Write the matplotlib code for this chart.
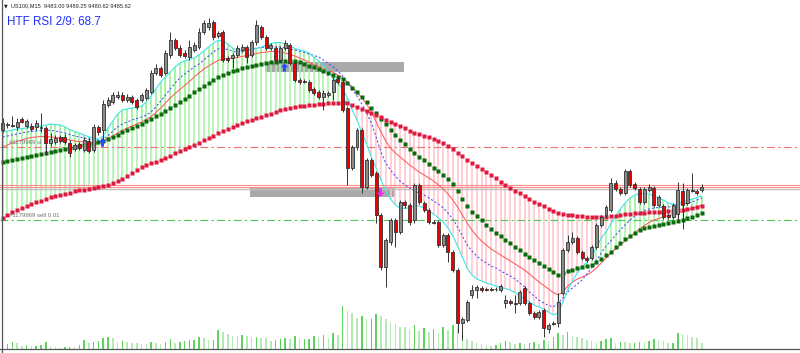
import matplotlib
matplotlib.use("Agg")
import matplotlib.pyplot as plt
from matplotlib.patches import Rectangle
import numpy as np

# ---------------- data (US100, M15) ----------------
opens = [
9543,9548,9548,9546,9554,9547,9547,9546,9545.5,9545,
9530,9531,9536,9536,9530,9524,9529,9523,9532,9523,
9546,9543,9568,9571,9576,9578,9573,9576,9573,9573,
9575,9581,9600,9605,9600,9618,9633,9625,9620,9616,
9623,9626,9641,9646,9651,9637,9641,9615,9615,9618,
9623,9626,9618,9631,9646,9636,9625,9625,9613,9625,
9628,9610,9593,9592,9591,9584,9581,9576,9578,9581,
9594,9591,9565,9505,9526,9543,9486,9513,9500,9458,
9406,9431,9453,9441,9471,9468,9453,9488,9470,9463,
9451,9451,9428,9438,9421,9403,9350,9353,9378,9383,
9385,9384,9384,9384,9383,9370,9372,9370,9370,9385,
9370,9360,9356,9363,9344,9350,9350,9380,9423,9431,
9435,9421,9415,9415,9426,9448,9458,9463,9490,9484,
9480,9502,9489,9484,9471,9483,9485,9468,9467,9458,
9456,9459,9482,9470,9483,9482,9483]
closes = [
9550,9549,9547.5,9551,9551,9552,9544,9550,9546.5,9530,
9534,9535,9532,9531,9520,9528,9525,9533,9522,9546,
9541,9569,9573,9578,9578,9573,9576,9571,9566,9578,
9583,9600,9605,9598,9620,9633,9625,9618,9617,9626,
9628,9641,9650,9650,9636,9640,9613,9613,9618,9625,
9626,9616,9631,9648,9636,9625,9628,9613,9625,9630,
9610,9593,9591,9591.5,9583,9580,9576,9580,9580,9593,
9591,9563,9505,9526,9543,9486,9513,9498,9458,9406,
9433,9453,9441,9471,9468,9451,9488,9471,9463,9451,
9450.5,9428,9438,9421,9403,9350,9354,9371,9383,9386,
9383,9383,9383.5,9384,9387,9373,9370,9369.5,9381,9370,
9360,9356,9361,9345,9348,9349.5,9371,9423,9431,9435,
9421,9415,9413,9426,9448,9456,9466,9490,9484,9480,
9502,9488,9485,9471,9484,9486,9468,9476,9456,9456,
9468,9483,9468,9483,9482.5,9480,9485.62]
highs = [
9555,9551,9557,9555,9556,9554,9550,9553,9560,9547,
9540,9538,9538,9539,9533,9530,9531,9536,9535,9549,
9548,9573,9576,9581,9582,9581,9579,9578,9575,9580,
9585,9603,9609,9607,9623,9641,9635,9628,9623,9633,
9631,9645,9653,9655,9653,9642,9643,9617,9620,9628,
9629,9628,9633,9653,9648,9638,9630,9627,9627,9633,
9630,9612,9595,9594,9593,9586,9583,9583,9582,9596,
9596,9593,9567,9528,9545,9545,9515,9515,9502,9460,
9435,9455,9455,9473,9473,9470,9490,9490,9472,9465,
9453,9453,9440,9440,9423,9405,9356,9373,9388,9388,
9387,9386,9386,9386,9389,9378,9374,9378,9383,9387,
9372,9362,9363,9365,9350,9352,9380,9425,9438,9441,
9437,9423,9417,9428,9450,9458,9468,9495,9493,9486,
9504,9504,9491,9486,9486,9489,9487,9478,9469,9460,
9470,9491,9490,9485,9500,9484,9489.25]
lows = [
9541,9545,9546,9543,9550,9545,9542,9543,9541,9518,
9527,9529,9530,9529,9516,9522,9523,9521,9520,9521,
9538,9531,9566,9569,9574,9571,9571,9569,9564,9571,
9573,9579,9598,9596,9598,9615,9623,9616,9615,9613,
9621,9624,9639,9643,9633,9635,9611,9611,9605,9616,
9621,9610,9616,9628,9634,9623,9623,9611,9611,9623,
9608,9591,9589,9590,9581,9578,9574,9563,9576,9573,
9589,9561,9488,9503,9523,9480,9484,9496,9450,9403,
9386,9428,9426,9439,9465,9448,9450,9469,9461,9449,
9449,9426,9426,9411,9401,9340,9333,9351,9375,9375,
9381,9382,9382,9382,9381,9365,9368,9360,9368,9368,
9358,9354,9354,9336,9340,9348,9346,9378,9421,9429,
9419,9413,9411,9413,9424,9446,9456,9461,9482,9478,
9478,9486,9483,9469,9469,9481,9466,9466,9454,9454,
9454,9453,9444,9468,9481,9478,9480.62]
volumes = [
200,200,290,250,120,160,120,130,150,290,
120,70,30,70,90,70,160,350,250,290,
320,430,470,440,290,320,290,250,230,200,
190,280,230,210,290,390,230,290,320,350,
350,470,430,360,360,750,670,600,530,520,
560,520,480,480,450,430,320,360,400,430,
400,510,390,400,400,530,480,560,450,650,
560,1720,1520,1450,1230,1320,1190,1190,1390,1310,
1190,1030,1000,890,880,800,960,720,840,680,
800,640,880,760,960,920,560,400,320,240,
200,160,120,160,240,320,280,200,240,200,
240,280,200,360,320,480,640,560,680,520,
480,430,360,330,250,330,390,430,250,280,
270,250,250,290,270,310,390,360,330,250,
250,650,600,560,490,430,250]
ma_fast = [  # cyan
9541,9542,9543,9544,9544.5,9545,9546,9546.5,9547,9548,
9549,9548.5,9548,9546,9543.5,9541.5,9540,9538,9536,9534.5,
9534,9537,9545,9552,9559,9563,9564,9565,9565.5,9567,
9571,9577,9584,9591,9596,9601,9606,9610,9612,9614,
9615,9618,9622,9626,9630,9632.5,9632,9629,9625,9622.5,
9622,9622.5,9623.5,9624.5,9626,9628,9629.5,9630.5,9630.5,9629,
9627,9624.5,9623,9622,9620,9616,9612,9607,9602,9596,
9590,9584,9575,9563,9553,9541,9529,9516,9505,9493,
9482,9474,9468,9465,9464.5,9465.5,9467,9467,9465,9462,
9459,9455,9451,9445,9437,9427,9416,9405,9398,9394,
9392,9390,9388.5,9387,9385.5,9384.5,9383,9380.5,9377,9374,
9371,9368,9366,9364,9361,9358,9360,9371,9383,9392,
9400,9406,9411,9417,9425,9435,9441,9449,9457,9464,
9470,9475,9478,9479.5,9479.5,9479,9477,9475.5,9473,9470,
9468.5,9469,9471,9472.5,9474,9475.5,9477]
ma_mid = [  # blue dashed
9536,9537,9538,9539,9540,9541,9541.5,9542,9542.5,9543,
9542.5,9542,9541,9540,9538.5,9537,9536,9535,9534,9533,
9533,9534,9537,9542,9546,9549,9551,9553,9554.5,9556,
9558,9561,9566,9572,9578,9584,9590,9595,9599,9602.5,
9606,9609,9613,9617,9621,9624,9624.5,9623.5,9622,9620.5,
9621,9622.5,9624,9625,9625.5,9626,9626,9626,9626,9625,
9624,9623,9622,9620.5,9619,9617.5,9616,9613,9609.5,9606,
9602,9597,9591,9584,9577,9569,9560,9550,9536,9521,
9510,9503,9497,9492,9488,9485,9482,9480,9478,9475,
9472,9469,9465,9460,9454,9446,9437,9428,9422,9417,
9413,9410,9407,9405,9402,9399.5,9397,9394,9390,9386,
9381,9377,9373,9370,9367.5,9366,9370,9375,9381,9385,
9389,9393,9399,9405,9412,9420,9427,9432,9438,9443,
9448,9453,9457,9460,9462.5,9464,9465,9465.5,9466,9466,
9466.5,9468,9469,9470,9471,9473,9475]
ma_slow = [  # salmon
9526,9528,9530,9531.5,9533,9534.5,9535.5,9536,9536.5,9536.5,
9536,9535.5,9535,9534,9533,9532,9531.5,9531,9530.5,9530,
9530,9532,9534.5,9537,9540,9542.5,9545,9547,9549,9551,
9553.5,9556.5,9560.5,9565,9570,9575,9579.5,9583.5,9587.5,9591.5,
9596,9600,9604,9607,9610,9612.5,9614,9614.5,9615,9615.5,
9616.5,9617.5,9618.5,9619.5,9620.5,9621,9621.5,9621.5,9621,9620,
9618.5,9617,9615,9613,9610.5,9608.5,9606.5,9604.5,9602.5,9600.5,
9598,9595,9591,9586,9581,9575,9569,9561,9551,9541,
9532,9525,9520,9516,9512,9508,9504.5,9501,9498,9495,
9492,9488,9484,9479,9473,9466,9458,9450,9443,9437,
9432,9428,9424,9421,9418,9415,9412,9409,9406,9403,
9399,9395,9391,9387.5,9384,9380.5,9378,9381,9387,9391,
9394,9396,9398,9401,9405,9410,9415,9420,9424,9428,
9432,9436,9440,9444,9447.5,9450.5,9453,9454.5,9456,9457.5,
9458.5,9460,9461.5,9463,9464.5,9466,9468]
dots_green = [
9511,9512,9513,9514,9515,9516,9517,9518,9519,9520,
9521,9522,9523,9524,9525,9526,9527,9528,9529,9530,
9531,9532.5,9534.5,9536.5,9538.5,9541,9543,9545,9547,9549.5,
9552,9554.5,9557,9559.5,9562,9565,9568,9571,9574,9577.5,
9581,9584.5,9587.5,9590.5,9593.5,9596,9598,9600,9602,9603.5,
9605,9606,9607,9608,9609,9610,9611,9611.5,9612,9612.5,
9612.5,9612,9611,9609.5,9607.5,9606,9604,9602,9600,9598.5,
9596.5,9594,9590,9585.5,9581,9576,9571,9565.5,9560,9554.5,
9549,9543.5,9538,9533,9529,9524.5,9520.5,9516.5,9513,9509,
9505,9502,9498.5,9494.5,9489,9482,9474,9467,9461,9457,
9453,9448.5,9444.5,9440.5,9437,9433.5,9430,9426.5,9423,9419.5,
9416,9413,9410,9407,9404,9401,9398.5,9400,9402,9403.5,
9405,9406,9407,9408.5,9411,9414.5,9418,9421.5,9426,9430,
9434,9437.5,9440.5,9443,9445,9446.5,9447.5,9448.5,9449.5,9450.5,
9451.5,9452.5,9453.5,9455,9456.5,9458,9460]
dots_red = [
9455,9458,9461,9463.5,9465.5,9467.5,9469.5,9471,9472.5,9474.5,
9476,9477,9478.5,9479.5,9480.5,9482,9483,9483.5,9484.5,9485,
9486,9487,9488.5,9490.5,9492,9494,9497,9500,9503,9506,
9508,9510,9511.5,9513.5,9515.5,9517.5,9520,9522,9524,9526,
9528,9530.5,9533,9535,9537.5,9540,9542.5,9544.5,9546.5,9548.5,
9550.5,9552,9553.5,9555,9556.5,9558,9559.5,9561,9563,9564,
9565,9566,9567,9567.5,9568,9568.5,9569,9569.5,9570,9570,
9570.5,9571,9570,9568.5,9566.5,9564.5,9562.5,9560,9558,9556,
9553.5,9551,9549,9547,9545,9542.5,9540.5,9539,9537.5,9536,
9534.5,9532.5,9530.5,9527.5,9524,9520.5,9517,9513.5,9510.5,9507.5,
9504.5,9501.5,9498,9495,9491.5,9488.5,9485,9482.5,9480,9477,
9474,9471.5,9469,9467,9464.5,9462.5,9460.5,9459.5,9458.5,9458,
9457.5,9457,9456.5,9456,9456,9456,9456.5,9457,9457.5,9458,
9459,9459.5,9460,9460,9460.5,9461,9461,9461,9461.5,9462,
9462.5,9463,9463.5,9464.5,9465,9466,9467]

# horizontal levels / objects
sl_level = 9526
sell_level = 9453
ask_levels = [9488, 9486]
bid_level = 9484
rects = [  # (bar_from, bar_to, price_low, price_high)
    (54.8, 83.8, 9601, 9611),
    (51.6, 81.9, 9476, 9486),
]
arrows_up = [(20.7, 9531), (58.8, 9606)]
arrows_down = [(78.8, 9481)]

header = "US100,M15  9483.00 9489.25 9480.62 9485.62"
rsi_text = "HTF RSI 2/9: 68.7"

n = len(closes)
for name, arr in [("opens", opens), ("highs", highs), ("lows", lows), ("volumes", volumes),
                  ("ma_fast", ma_fast), ("ma_mid", ma_mid), ("ma_slow", ma_slow),
                  ("dots_green", dots_green), ("dots_red", dots_red)]:
    if len(arr) != n:
        raise SystemExit(f"{name} has {len(arr)} items, expected {n}")

idx = np.arange(n)
o = np.array(opens); c = np.array(closes); h = np.array(highs); l = np.array(lows)
fast = np.array(ma_fast); mid = np.array(ma_mid); slow = np.array(ma_slow)
gd = np.array(dots_green); rd = np.array(dots_red)

# ---------------- figure ----------------
W, H = 800, 353
fig = plt.figure(figsize=(W / 100, H / 100), dpi=100)
fig.patch.set_facecolor("white")
ax = fig.add_axes([0, 0, 1, 1])
bar_px = 4.788
x0_px = 2.7
ax.set_xlim(-x0_px / bar_px, (W - x0_px) / bar_px)
ax.set_ylim(9673 - H, 9673)
ax.axis("off")

# volume axis (own scale), drawn underneath
vax = ax.twinx()
vax.set_ylim(-4 * 40, 349 * 40)
vax.axis("off")
vax.set_zorder(0)
ax.set_zorder(1)
ax.patch.set_visible(False)
vol = np.array(volumes)
vcol = ["#5fd35f" if (i == 0 or vol[i] >= vol[i - 1]) else "#b6e9b6" for i in range(n)]
vax.bar(idx, vol, width=0.32, color=vcol, linewidth=0)

# rectangles (background objects)
for b0, b1, p0, p1 in rects:
    ax.add_patch(Rectangle((b0, p0), b1 - b0, p1 - p0, facecolor="#a9a9a9",
                           edgecolor="none", zorder=1))

# histogram between fast MA and red dots, plus fast MA vs green dots
GREEN = "#a6f2a6"
PINK = "#ffc3cc"
up = fast >= rd
ax.vlines(idx[up], np.minimum(fast, rd)[up], np.maximum(fast, rd)[up], colors=GREEN, lw=1.1, zorder=2)
ax.vlines(idx[~up], np.minimum(fast, rd)[~up], np.maximum(fast, rd)[~up], colors=PINK, lw=1.1, zorder=2)
up2 = fast > gd
ax.vlines(idx[up2], gd[up2], fast[up2], colors=GREEN, lw=1.1, zorder=2)

# horizontal lines
ax.axhline(sl_level, color="#f07070", lw=0.8, dashes=(7, 3, 2, 3), zorder=3)
ax.axhline(sell_level, color="#50c850", lw=0.8, dashes=(7, 3, 2, 3), zorder=3)
for lv in ask_levels:
    ax.axhline(lv, color="#ff8c8c", lw=0.8, zorder=3)
ax.axhline(bid_level, color="#c0c0c0", lw=1.0, zorder=3)
ax.text(1.3, sl_level + 2, "#1179969 sl", fontsize=4.3, color="#707070",
        family="Liberation Sans", va="bottom", ha="left", zorder=6)
ax.text(1.3, sell_level + 2, "#1179969 sell 0.01", fontsize=4.3, color="#707070",
        family="Liberation Sans", va="bottom", ha="left", zorder=6)

# moving averages
ax.plot(idx, slow, color="#ff5a5a", lw=0.75, zorder=4)
ax.plot(idx, mid, color="#4a4aff", lw=0.75, dashes=(2, 2), zorder=4)
ax.plot(idx, fast, color="#3ce6e6", lw=0.8, zorder=4)
ax.plot(idx, gd, "s", ms=2.2, color="#0b6b0b", mec="none", zorder=5, antialiased=False)
ax.plot(idx, rd, "s", ms=2.2, color="#e0183e", mec="none", zorder=5, antialiased=False)

# candles
ax.vlines(idx, l, h, colors="#333333", lw=0.7, zorder=6)
bull = c >= o
bot = np.minimum(o, c)
hgt = np.abs(c - o)
ax.bar(idx[bull], hgt[bull], bottom=bot[bull], width=0.62, color="#8a8a8a",
       edgecolor="#333333", linewidth=0.6, zorder=7)
ax.bar(idx[~bull], hgt[~bull], bottom=bot[~bull], width=0.62, color="#ee0000",
       edgecolor="#333333", linewidth=0.6, zorder=7)

# arrows
up_arrow = [(0, 1), (-0.9, 0.05), (-0.35, 0.05), (-0.35, -1), (0.35, -1), (0.35, 0.05), (0.9, 0.05), (0, 1)]
down_arrow = [(x, -y) for x, y in up_arrow]
for bx, py in arrows_up:
    ax.plot(bx, py, marker=up_arrow, ms=6, color="#1e4cff", mec="none", zorder=8)
for bx, py in arrows_down:
    ax.plot(bx, py, marker=down_arrow, ms=6, color="#ff20ff", mec="none", zorder=8)

# frame
ax.axvline(-0.7 / bar_px, color="#555555", lw=0.9, zorder=9)
ax.axhline(9673 - 349, color="#555555", lw=0.9, zorder=9)

# texts
fig.text(4 / W, 1 - 6 / H, "\u25bc", fontsize=3.5, color="#222222", va="center", ha="left")
fig.text(11 / W, 1 - 6 / H, header, fontsize=4.1, color="#222222", va="center", ha="left",
         family="Liberation Sans")
fig.text(7 / W, 1 - 22 / H, rsi_text, fontsize=8.4, color="#1f2fff", va="center", ha="left",
         family="Liberation Sans")

fig.savefig("out.png", dpi=100, facecolor="white")
